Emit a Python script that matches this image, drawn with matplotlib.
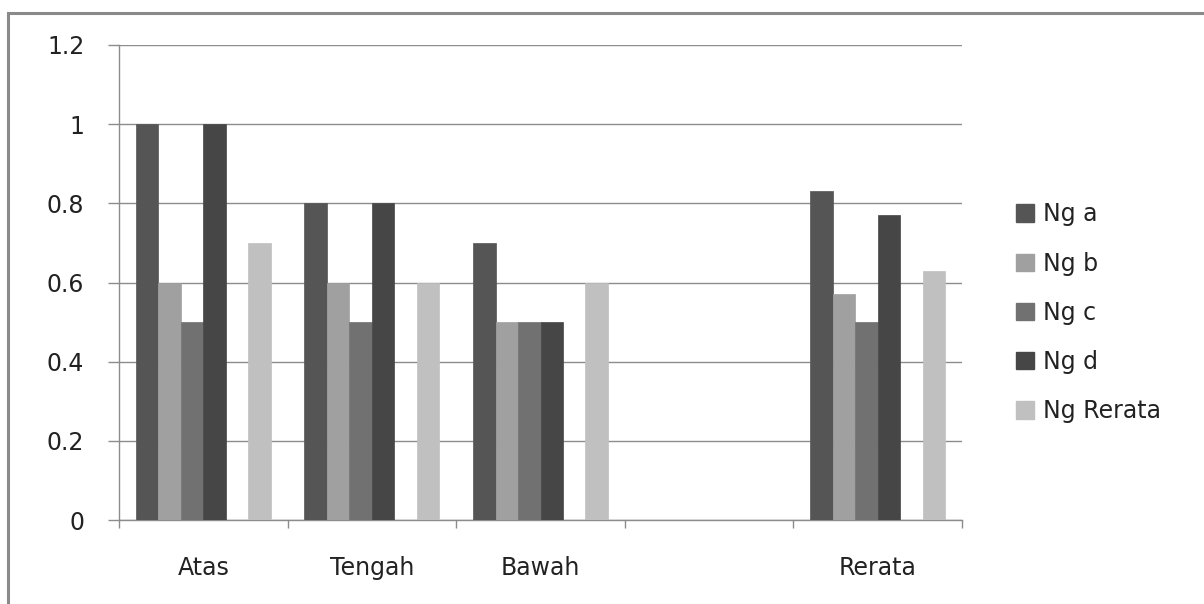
import numpy as np
import matplotlib.pyplot as plt
from matplotlib.patches import Rectangle, Patch

plt.rcParams['font.family'] = ['DejaVu Sans']

# categories on the x axis (the fourth slot is left empty)
categories = ['Atas', 'Tengah', 'Bawah', '', 'Rerata']
series_names = ['Ng a', 'Ng b', 'Ng c', 'Ng d', 'Ng Rerata']

ng_a = [1.0, 0.8, 0.7, np.nan, 0.83]
ng_b = [0.6, 0.6, 0.5, np.nan, 0.57]
ng_c = [0.5, 0.5, 0.5, np.nan, 0.5]
ng_d = [1.0, 0.8, 0.5, np.nan, 0.77]
ng_rerata = [0.7, 0.6, 0.6, np.nan, 0.63]

y_ticks = [0, 0.2, 0.4, 0.6, 0.8, 1, 1.2]
y_tick_labels = ['0', '0.2', '0.4', '0.6', '0.8', '1', '1.2']

colors = ['#555555', '#a0a0a0', '#717171', '#464646', '#c0c0c0']
# slot index of each series inside a group (slot 4 is an unnamed empty series)
slots = [0, 1, 2, 3, 5]
n_slots = 6

W, H = 1204, 604
fig = plt.figure(figsize=(W / 100, H / 100), dpi=100)

# outer chart frame (runs off the right and bottom edges)
fig.patches.append(Rectangle((8 / W, -0.1), 1.2, 1.1 - 13 / H,
                             transform=fig.transFigure, fill=False,
                             edgecolor='#8a8a8a', linewidth=2.2))

ax = fig.add_axes([119 / W, 1 - 520 / H, (962 - 119) / W, (520 - 45) / H])

bar_w = 1 / (n_slots + 1.5)
x = np.arange(len(categories)) + 0.5
handles = []
for vals, name, col, s in zip([ng_a, ng_b, ng_c, ng_d, ng_rerata], series_names, colors, slots):
    ax.bar(x + (s - (n_slots - 1) / 2) * bar_w, vals, width=bar_w, color=col,
           edgecolor=col, linewidth=0.5, zorder=3)
    handles.append(Patch(facecolor=col, edgecolor=col, label=name))

ax.set_xlim(0, len(categories))
ax.set_ylim(0, 1.2)

ax.set_yticks(y_ticks)
ax.set_yticklabels(y_tick_labels)
ax.yaxis.grid(True, color='#8c8c8c', linewidth=1.0, zorder=0)
ax.set_axisbelow(True)

ax.set_xticks(np.arange(len(categories) + 1))
ax.set_xticklabels([])
ax.set_xticks(x, minor=True)
ax.set_xticklabels(categories, minor=True)

ax.tick_params(axis='y', length=8, width=1.0, color='#8c8c8c', pad=17,
               labelsize=17, labelcolor='#222222')
ax.tick_params(axis='x', which='major', length=6, width=1.0, color='#8c8c8c', direction='out')
ax.tick_params(axis='x', which='minor', length=0, pad=26, labelsize=17, labelcolor='#222222')

for side in ['top', 'right']:
    ax.spines[side].set_visible(False)
for side in ['left', 'bottom']:
    ax.spines[side].set_color('#8c8c8c')
    ax.spines[side].set_linewidth(1.0)

fig.legend(handles=handles, loc='upper left', bbox_to_anchor=(995 / W, 1 - 181 / H),
           frameon=False, fontsize=17, handlelength=0.75, handleheight=0.75,
           handletextpad=0.4, labelspacing=1.07, labelcolor='#222222')

fig.savefig('out.png', dpi=100)
